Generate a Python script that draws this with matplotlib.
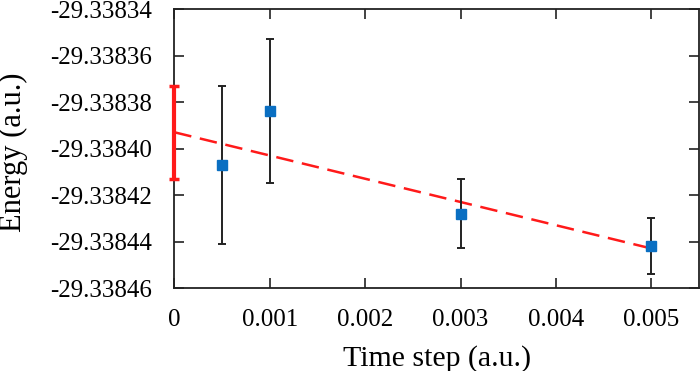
import matplotlib
matplotlib.use("Agg")
import matplotlib.pyplot as plt
import numpy as np

# Data
time_step = [0.0005, 0.001, 0.003, 0.005]
energy = [-29.338407, -29.338384, -29.338428, -29.338442]
energy_err = [0.0000340, 0.0000310, 0.0000150, 0.0000120]

fit_x = [0.0, 0.005]
fit_y = [-29.338393, -29.338443]
extrap_x = [0.0]
extrap_y = [-29.338393]
extrap_err = [0.0000200]

xticks = [0, 0.001, 0.002, 0.003, 0.004, 0.005]
xtick_labels = ["0", "0.001", "0.002", "0.003", "0.004", "0.005"]
yticks = [-29.33846, -29.33844, -29.33842, -29.33840, -29.33838, -29.33836, -29.33834]
ytick_labels = ["-29.33846", "-29.33844", "-29.33842", "-29.33840", "-29.33838", "-29.33836", "-29.33834"]

plt.rcParams['font.family'] = ['Liberation Serif', 'DejaVu Serif']

fig = plt.figure(figsize=(7.0, 3.71), dpi=100)
ax = fig.add_axes([0.249, 0.2237, 0.7496, 0.752])

ax.plot(fit_x, fit_y, color='#ff1a1a', lw=1.8, dashes=(7, 3.5), zorder=2)
ax.errorbar(extrap_x, extrap_y, yerr=extrap_err, fmt='none', ecolor='#ff1a1a',
            elinewidth=3, capsize=3.5, capthick=2.5, zorder=3, clip_on=False)
ax.errorbar(time_step, energy, yerr=energy_err, fmt='s', color='#0a6fc2',
            markersize=7.5, ecolor='#222222', elinewidth=1.4, capsize=3, capthick=1.4, zorder=4)

ax.set_xlim(0, 0.0055)
ax.set_ylim(-29.33846, -29.33834)
ax.set_xticks(xticks)
ax.set_xticklabels(xtick_labels)
ax.set_yticks(yticks)
ax.set_yticklabels(ytick_labels)
ax.tick_params(direction='in', length=7, width=1.2, top=True, right=True,
               labelsize=18, color='#222222')
ax.tick_params(axis='y', pad=16)
ax.tick_params(axis='x', pad=15)
for s in ax.spines.values():
    s.set_linewidth(1.3)
    s.set_color('#222222')

ax.set_xlabel("Time step (a.u.)", fontsize=21.5, labelpad=10)
ax.set_ylabel("Energy (a.u.)", fontsize=22, labelpad=12)
ax.yaxis.set_label_coords(-0.279, 0.486)

fig.savefig("out.png", dpi=100)
